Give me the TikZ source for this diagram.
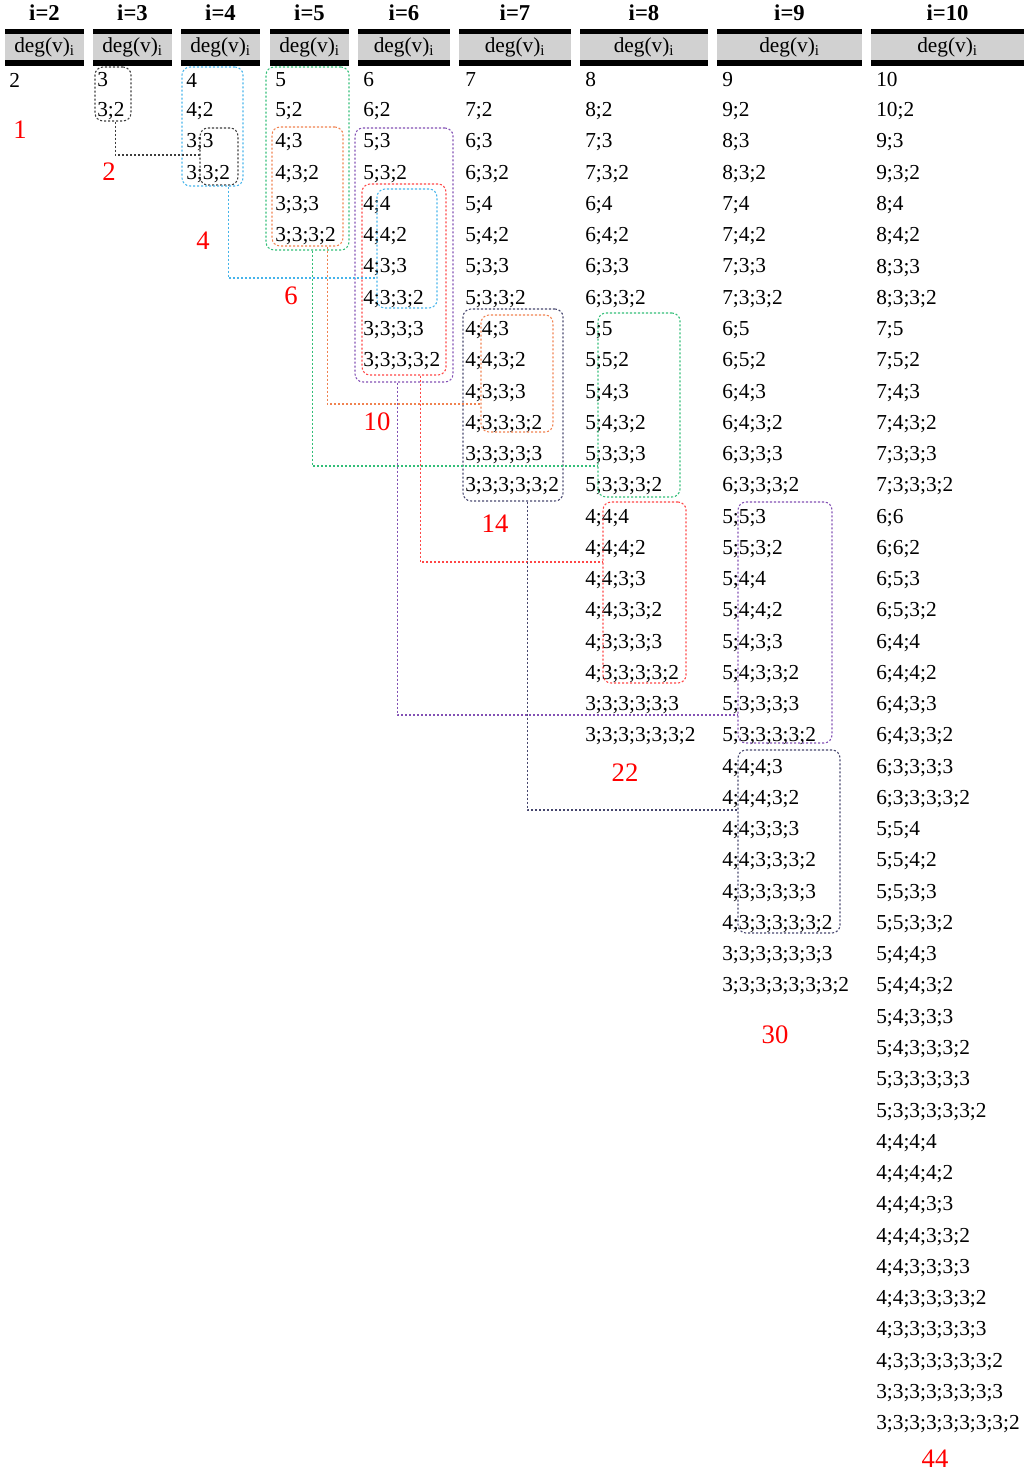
\documentclass[tikz,border=0pt]{standalone}
\usepackage{fontspec}
\setmainfont{Liberation Serif}
\usetikzlibrary{fit}
\definecolor{cgray}{RGB}{60,60,60}
\definecolor{cblue}{RGB}{70,180,235}
\definecolor{cgreen}{RGB}{50,190,120}
\definecolor{corange}{RGB}{240,130,80}
\definecolor{cpurple}{RGB}{130,80,180}
\definecolor{cred}{RGB}{255,70,70}
\definecolor{cnavy}{RGB}{70,70,110}
\begin{document}
\begin{tikzpicture}[x=0.75pt,y=-0.75pt,
  hdr/.style={font=\fontsize{17}{17}\selectfont\bfseries,inner sep=0},
  dg/.style={font=\fontsize{16}{16}\selectfont,inner sep=0},
  item/.style={font=\fontsize{16}{16}\selectfont,anchor=west,inner sep=0},
  cnt/.style={font=\fontsize{20}{20}\selectfont,text=red,inner sep=0},
  boxs/.style={draw,rounded corners=6pt,dash pattern=on 1.6pt off 1.4pt,line width=0.8pt,inner sep=0},
  lnk/.style={dash pattern=on 1.6pt off 1.4pt,line width=0.8pt}]
\useasboundingbox (0,0) rectangle (1024,1473);
% headers
\foreach \k/\a/\b in {2/5/84,3/93/172,4/181/260,5/270/349,6/358/450,7/459/571,8/580/708,9/717/862,10/871/1024}{
  \fill[black] (\a,29) rectangle (\b,66);
  \fill[black!18] (\a,34) rectangle (\b,60);
  \node[hdr] (h\k) at ({(\a+\b)/2},13) {i=\k};
  \node[dg] (d\k) at ({(\a+\b)/2},47) {deg(v)\textsubscript{i}};
}
\newcommand{\col}[3]{\foreach \t [count=\n from 0] in {#3}{\node[item] (c#1r\n) at (#2,{80+31.26*\n}) {\t};}}
\col{2}{9}{2}
\col{3}{97}{3,3;2}
\col{4}{186}{4,4;2,3;3,3;3;2}
\col{5}{275}{5,5;2,4;3,4;3;2,3;3;3,3;3;3;2}
\col{6}{363}{6,6;2,5;3,5;3;2,4;4,4;4;2,4;3;3,4;3;3;2,3;3;3;3,3;3;3;3;2}
\col{7}{465}{7,7;2,6;3,6;3;2,5;4,5;4;2,5;3;3,5;3;3;2,4;4;3,4;4;3;2,4;3;3;3,4;3;3;3;2,3;3;3;3;3,3;3;3;3;3;2}
\col{8}{585}{8,8;2,7;3,7;3;2,6;4,6;4;2,6;3;3,6;3;3;2,5;5,5;5;2,5;4;3,5;4;3;2,5;3;3;3,5;3;3;3;2,4;4;4,4;4;4;2,4;4;3;3,4;4;3;3;2,4;3;3;3;3,4;3;3;3;3;2,3;3;3;3;3;3,3;3;3;3;3;3;2}
\col{9}{722}{9,9;2,8;3,8;3;2,7;4,7;4;2,7;3;3,7;3;3;2,6;5,6;5;2,6;4;3,6;4;3;2,6;3;3;3,6;3;3;3;2,5;5;3,5;5;3;2,5;4;4,5;4;4;2,5;4;3;3,5;4;3;3;2,5;3;3;3;3,5;3;3;3;3;2,4;4;4;3,4;4;4;3;2,4;4;3;3;3,4;4;3;3;3;2,4;3;3;3;3;3,4;3;3;3;3;3;2,3;3;3;3;3;3;3,3;3;3;3;3;3;3;2}
\col{10}{876}{10,10;2,9;3,9;3;2,8;4,8;4;2,8;3;3,8;3;3;2,7;5,7;5;2,7;4;3,7;4;3;2,7;3;3;3,7;3;3;3;2,6;6,6;6;2,6;5;3,6;5;3;2,6;4;4,6;4;4;2,6;4;3;3,6;4;3;3;2,6;3;3;3;3,6;3;3;3;3;2,5;5;4,5;5;4;2,5;5;3;3,5;5;3;3;2,5;4;4;3,5;4;4;3;2,5;4;3;3;3,5;4;3;3;3;2,5;3;3;3;3;3,5;3;3;3;3;3;2,4;4;4;4,4;4;4;4;2,4;4;4;3;3,4;4;4;3;3;2,4;4;3;3;3;3,4;4;3;3;3;3;2,4;3;3;3;3;3;3,4;3;3;3;3;3;3;2,3;3;3;3;3;3;3;3,3;3;3;3;3;3;3;3;2}
% counts
\node[cnt] (n1) at (20,130) {1};
\node[cnt] (n2) at (109,172) {2};
\node[cnt] (n4) at (203,241) {4};
\node[cnt] (n6) at (291,296) {6};
\node[cnt] (n10) at (377,422) {10};
\node[cnt] (n14) at (495,524) {14};
\node[cnt] (n22) at (625,773) {22};
\node[cnt] (n30) at (775,1035) {30};
\node[cnt] (n44) at (935,1459) {44};
% boxes
\node[boxs,draw=cgray,fit={(95,67) (131,121)}] (bA) {};
\node[boxs,draw=cgray,fit={(200,128) (238,185)}] (bA2) {};
\node[boxs,draw=cblue,fit={(182,67) (243,186)}] (bB) {};
\node[boxs,draw=cblue,fit={(377,189) (437,308)}] (bB2) {};
\node[boxs,draw=cgreen,fit={(266,67) (349,250)}] (bC) {};
\node[boxs,draw=cgreen,fit={(598,313) (680,497)}] (bC2) {};
\node[boxs,draw=corange,fit={(272,127) (343,246)}] (bD) {};
\node[boxs,draw=corange,fit={(481,315) (553,432)}] (bD2) {};
\node[boxs,draw=cpurple,fit={(355,128) (453,382)}] (bE) {};
\node[boxs,draw=cpurple,fit={(738,502) (832,743)}] (bE2) {};
\node[boxs,draw=cred,fit={(362,184) (446,375)}] (bF) {};
\node[boxs,draw=cred,fit={(603,502) (686,683)}] (bF2) {};
\node[boxs,draw=cnavy,fit={(463,309) (563,501)}] (bG) {};
\node[boxs,draw=cnavy,fit={(738,750) (840,933)}] (bG2) {};
% connectors
\coordinate (eA) at (200,155);
\coordinate (eB) at (377,278);
\coordinate (eC) at (598,466);
\coordinate (eD) at (481,404);
\coordinate (eE) at (738,715);
\coordinate (eF) at (603,562);
\coordinate (eG) at (738,810);
\draw[lnk,cgray] (bA.south west) ++(21,0) |- (eA);
\draw[lnk,cblue] (bB.south west) ++(47,0) |- (eB);
\draw[lnk,cgreen] (bC.south west) ++(47,0) |- (eC);
\draw[lnk,corange] (bD.south west) ++(56,0) |- (eD);
\draw[lnk,cpurple] (bE.south west) ++(43,0) |- (eE);
\draw[lnk,cred] (bF.south west) ++(59,0) |- (eF);
\draw[lnk,cnavy] (bG.south west) ++(65,0) |- (eG);
\end{tikzpicture}
\end{document}
